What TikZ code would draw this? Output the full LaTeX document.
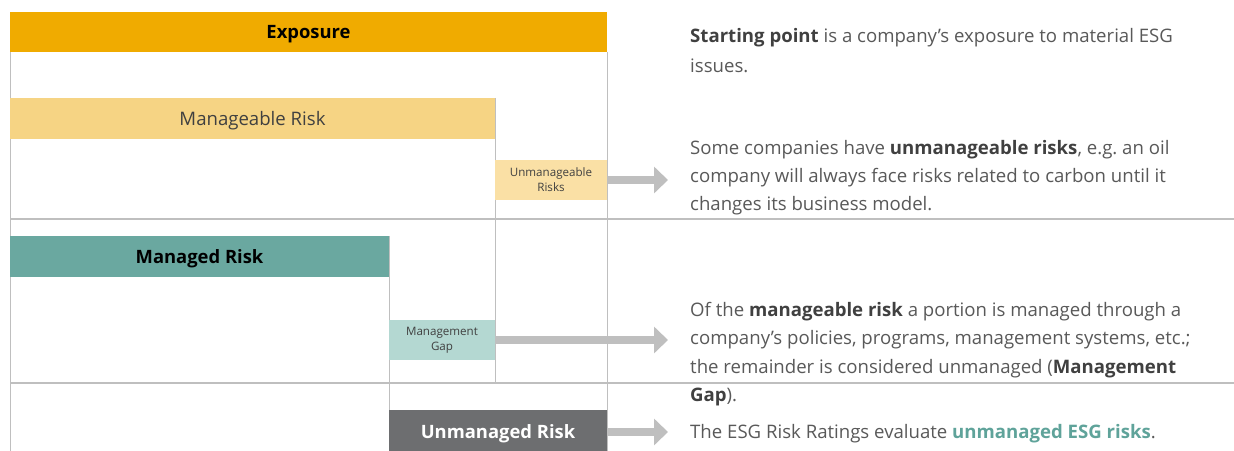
\documentclass[tikz,border=0pt]{standalone}
\usepackage{fontspec}
\setmainfont{Open Sans}
\usetikzlibrary{arrows.meta}
\frenchspacing
\definecolor{expo}{HTML}{F0AB00}
\definecolor{mgbl}{HTML}{F6D484}
\definecolor{unmg}{HTML}{FAE0A5}
\definecolor{mgd}{HTML}{6AA8A0}
\definecolor{gap}{HTML}{B4D8D2}
\definecolor{unrk}{HTML}{6D6E70}
\definecolor{frame}{HTML}{BFBFBF}
\definecolor{txt}{HTML}{595959}
\definecolor{bld}{HTML}{404040}
\definecolor{teal}{HTML}{5FA39A}
\tikzset{
  bar/.style={anchor=north west, inner sep=0pt, outer sep=0pt, align=center},
  onel/.style={text depth=0pt},
  big/.style={font=\fontsize{18.6}{20}\selectfont},
  bigb/.style={font=\fontsize{18.4}{20}\selectfont\bfseries},
  small/.style={font=\fontsize{11.6}{15}\selectfont},
  vline/.style={draw=frame, line width=1pt},
  hline/.style={draw=frame, line width=2pt},
  bigarrow/.style={draw=frame, line width=8pt, -{Triangle[length=14pt,width=26pt]}},
  desc/.style={anchor=west, inner sep=0pt, text=txt, font=\fontsize{18.6}{21}\selectfont\frenchspacing},
}
\newcommand{\bb}[1]{\textbf{\color{bld}#1}}
\begin{document}
\begin{tikzpicture}[x=1pt,y=-1pt]
\useasboundingbox (0,0) rectangle (1234,450);
\clip (0,0) rectangle (1234,450);
\fill[white] (0,0) rectangle (1234,450);
% frame lines
\draw[vline] (10,52) -- (10,452);
\draw[vline] (607,52) -- (607,452);
\draw[vline] (495,98) -- (495,383);
\draw[vline] (389,236) -- (389,452);
\draw[hline] (10,219) -- (1234,219);
\draw[hline] (10,383) -- (1234,383);
% bars
\node[bar, onel, fill=expo, minimum width=597pt, minimum height=40pt, bigb] (expo) at (10,12) {Exposure};
\node[bar, onel, fill=mgbl, minimum width=485pt, minimum height=41pt, big, text=bld] (mgbl) at (10,98) {Manageable Risk};
\node[bar, fill=unmg, minimum width=112pt, minimum height=40pt, small, text=bld] (unmg) at (495,160) {Unmanageable\\Risks};
\node[bar, onel, fill=mgd, minimum width=379pt, minimum height=41pt, bigb] (mgd) at (10,236) {Managed Risk};
\node[bar, fill=gap, minimum width=106pt, minimum height=40pt, small, text=bld] (gap) at (389,320) {Management\\Gap};
\node[bar, onel, fill=unrk, minimum width=218pt, minimum height=44pt, bigb, text=white] (unrk) at (389,410) {Unmanaged Risk};
% arrows
\coordinate (a1) at (668,180);
\coordinate (a2) at (668,340);
\coordinate (a3) at (668,432);
\draw[bigarrow] (unmg.east) -- (a1);
\draw[bigarrow] (gap.east) -- (a2);
\draw[bigarrow] (unrk.east |- a3) -- (a3);
% descriptions
\node[desc] (t1) at (690,38) {\bb{Starting point} is a company’s exposure to material ESG};
\node[desc] (t2) at (690,66) {issues.};
\node[desc] (t3) at (690,150) {Some companies have \bb{unmanageable risks}, e.g. an oil};
\node[desc] (t4) at (690,178) {company will always face risks related to carbon until it};
\node[desc] (t5) at (690,206) {changes its business model.};
\node[desc] (t6) at (690,312) {Of the \bb{manageable risk} a portion is managed through a};
\node[desc] (t7) at (690,340) {company’s policies, programs, management systems, etc.;};
\node[desc] (t8) at (690,369) {the remainder is considered unmanaged (\bb{Management}};
\node[desc] (t9) at (690,397) {\bb{Gap}).};
\node[desc] (t10) at (690,434) {The ESG Risk Ratings evaluate \textbf{\color{teal}unmanaged ESG risks}.};
\end{tikzpicture}
\end{document}
